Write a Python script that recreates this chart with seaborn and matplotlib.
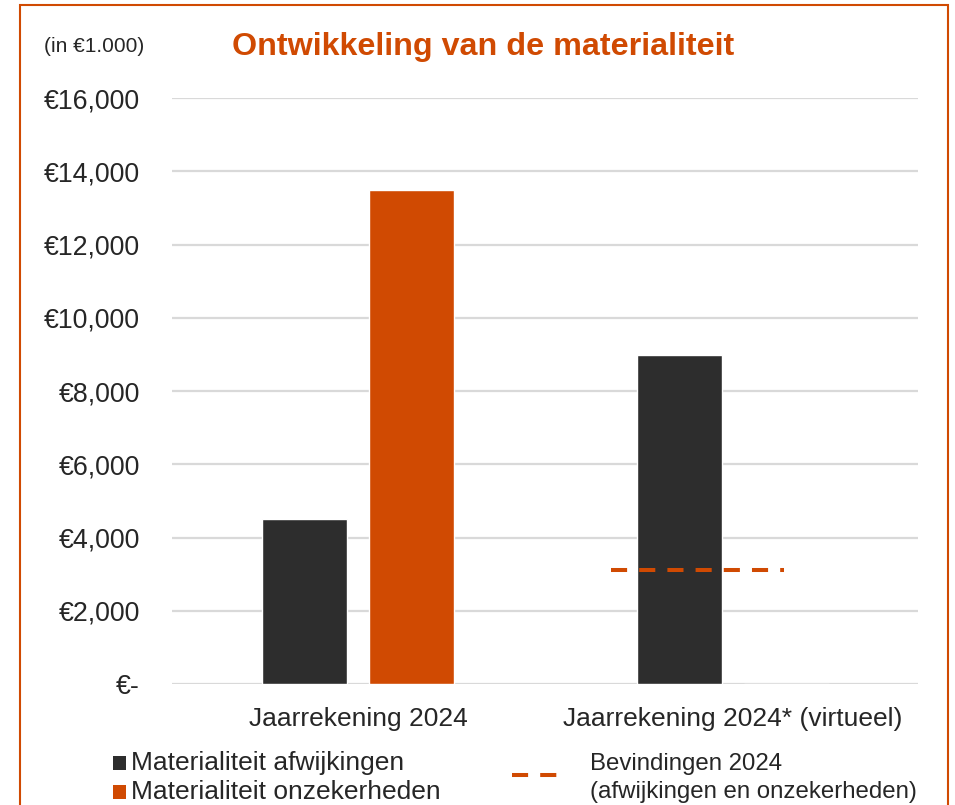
import matplotlib
matplotlib.use("Agg")
import matplotlib.pyplot as plt
from matplotlib.patches import Rectangle
from matplotlib.lines import Line2D
import seaborn as sns
import pandas as pd

# Values in thousands of euros
categories = ["Jaarrekening 2024", "Jaarrekening 2024* (virtueel)"]
series_names = ["Materialiteit afwijkingen", "Materialiteit onzekerheden"]
afwijkingen = [4500, 8980]
onzekerheden = [13490, 0]
bevindingen_label = "Bevindingen 2024\n(afwijkingen en onzekerheden)"
bevindingen_value = 3110
y_ticks = [0, 2000, 4000, 6000, 8000, 10000, 12000, 14000, 16000]

ORANGE = "#D04A02"
DARK = "#2D2D2D"
GRID = "#D9D9D9"
TEXT = "#262626"

sns.set_theme(style="white")
plt.rcParams["font.family"] = ["Liberation Sans", "DejaVu Sans"]

df = pd.DataFrame({
    "categorie": categories * 2,
    "reeks": [series_names[0]] * 2 + [series_names[1]] * 2,
    "waarde": afwijkingen + onzekerheden,
})

fig = plt.figure(figsize=(9.55, 8.05), dpi=100)
ax = fig.add_axes([172 / 955, 1 - 684 / 805, 746 / 955, 586 / 805])

sns.barplot(data=df, x="categorie", y="waarde", hue="reeks",
            palette=[DARK, ORANGE], width=0.571, gap=0.2,
            saturation=1, errorbar=None, legend=False, ax=ax, zorder=3)

# Dashed findings line across the second category
ax.hlines(bevindingen_value, 1 - 0.325, 1 + 0.135, colors=ORANGE,
          linewidth=2.9, linestyles=(0, (4, 3)), zorder=4)

ax.set_xlim(-0.496, 1.493)
ax.set_ylim(0, 16000)
ax.set_yticks(y_ticks)
ax.set_yticklabels(["€-" if v == 0 else f"€{v:,}" for v in y_ticks])
ax.yaxis.grid(True, color=GRID, linewidth=1.6, zorder=0)
ax.set_axisbelow(True)
for s in ax.spines.values():
    s.set_visible(False)
ax.tick_params(axis="y", length=0, pad=23, labelsize=19.3, labelcolor=TEXT)
ax.tick_params(axis="x", length=0, pad=16.5, labelsize=19, labelcolor=TEXT)
ax.set_xlabel("")
ax.set_ylabel("")

# Titles
fig.text(483 / 955, 1 - 47 / 805, "Ontwikkeling van de materialiteit",
         ha="center", va="center", fontsize=23.2, fontweight="bold", color=ORANGE)
fig.text(44 / 955, 1 - 47 / 805, "(in €1.000)", ha="left", va="center",
         fontsize=15, color=TEXT)

# Legend
for i, (name, col) in enumerate(zip(series_names, [DARK, ORANGE])):
    yc = 763 + i * 29
    fig.patches.append(Rectangle((113 / 955, 1 - (yc + 7) / 805), 13 / 955, 14 / 805,
                                 transform=fig.transFigure, facecolor=col,
                                 edgecolor="none"))
    fig.text(131 / 955, 1 - yc / 805, name, ha="left", va="center",
             fontsize=19, color=TEXT)
fig.lines.append(Line2D([512 / 955, 557 / 955], [1 - 775 / 805] * 2,
                        transform=fig.transFigure, color=ORANGE, linewidth=2.9,
                        linestyle=(0, (4, 3))))
fig.text(590 / 955, 1 - 778 / 805, bevindingen_label, ha="left", va="center",
         fontsize=17.3, color=TEXT, linespacing=1.4)

# Orange frame around the chart
fig.patches.append(Rectangle((20 / 955, -0.05), 928 / 955, 1.05 - 5 / 805,
                             transform=fig.transFigure, facecolor="none",
                             edgecolor=ORANGE, linewidth=1.5))

fig.savefig("out.png", dpi=100)
